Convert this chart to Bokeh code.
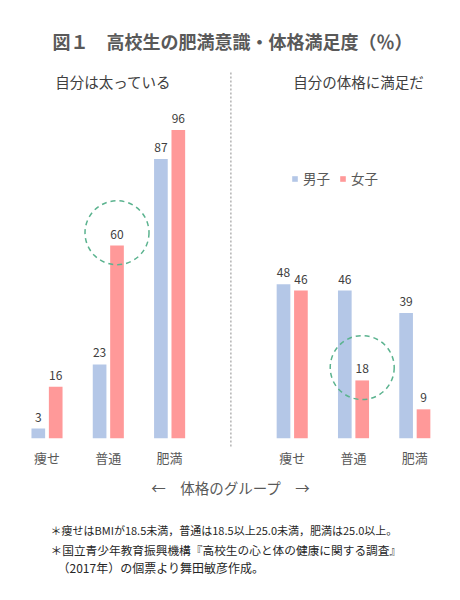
import numpy as np
from bokeh.plotting import figure
from bokeh.models import Range1d, Label, Legend, LegendItem, ColumnDataSource
from bokeh.core.properties import value
from bokeh.embed import file_html
from bokeh.resources import INLINE

# ---------------- data ----------------
title = "図１　高校生の肥満意識・体格満足度（％）"
panels = ["自分は太っている", "自分の体格に満足だ"]
groups = ["痩せ", "普通", "肥満"]
series = ["男子", "女子"]
male_fat = [3, 23, 87]
female_fat = [16, 60, 96]
male_sat = [48, 46, 39]
female_sat = [46, 18, 9]
axis_title = "←　体格のグループ　→"
notes = [
    "＊痩せはBMIが18.5未満，普通は18.5以上25.0未満，肥満は25.0以上。",
    "＊国立青少年教育振興機構『高校生の心と体の健康に関する調査』",
    "（2017年）の個票より舞田敏彦作成。",
]

# ---------------- styling ----------------
FONT = "Noto Sans CJK JP"
C_MALE = "#b4c7e7"
C_FEMALE = "#ff9999"
C_GREEN = "#5bb38f"
C_GRAY = "#595959"

W, H = 456, 596
X0, X1 = -0.7586, 6.680
Y0, Y1 = -49.31, 136.36


def dx(px):
    return X0 + px / W * (X1 - X0)


def dy(py):
    return Y1 - py / H * (Y1 - Y0)


p = figure(width=W, height=H, output_backend="svg", toolbar_location=None,
           x_range=Range1d(X0, X1), y_range=Range1d(Y0, Y1),
           min_border=0, min_border_left=0, min_border_right=0,
           min_border_top=0, min_border_bottom=0)
p.axis.visible = False
p.grid.visible = False
p.outline_line_color = None
p.background_fill_color = "white"
p.border_fill_color = "white"

pos_left = np.array([0, 1, 2], dtype=float)
pos_right = np.array([4, 5, 6], dtype=float)
positions = np.concatenate([pos_left, pos_right])
male = np.array(male_fat + male_sat, dtype=float)
female = np.array(female_fat + female_sat, dtype=float)
OFF, BW = 0.142, 0.223

src = ColumnDataSource(dict(
    xm=positions - OFF, xf=positions + OFF, m=male, f=female,
    lm=[str(int(v)) for v in male], lf=[str(int(v)) for v in female],
))

r_m = p.vbar(x="xm", top="m", bottom=0, width=BW, source=src,
             fill_color=C_MALE, line_color=None)
r_f = p.vbar(x="xf", top="f", bottom=0, width=BW, source=src,
             fill_color=C_FEMALE, line_color=None)

for xc, yc, tc in (("xm", "m", "lm"), ("xf", "f", "lf")):
    p.text(x=xc, y=yc, text=tc, source=src, text_font=value(FONT),
           text_font_size="12px", text_color="#404040", text_align="center",
           text_baseline="bottom", y_offset=-7)

# category labels
p.text(x=positions, y=[dy(457)] * 6, text=groups * 2, text_font=value(FONT),
       text_font_size="13px", text_color=C_GRAY, text_align="center",
       text_baseline="middle")

# highlight circles around 女子・普通 in both panels
hi = [1, 4]
p.scatter(x=positions[hi] + OFF, y=female[hi] + 4, marker="circle", size=64,
          fill_color=None, line_color=C_GREEN, line_width=1.5, line_dash="5 4")

# divider
mid = (pos_left[-1] + pos_right[0]) / 2
p.segment(x0=[mid], y0=[dy(446)], x1=[mid], y1=[dy(72)], line_color="#8c8c8c",
          line_width=1, line_dash="2 2")

# panel titles
for i, t in enumerate(panels):
    centre = (pos_left if i == 0 else pos_right)[1]
    p.add_layout(Label(x=centre + 0.08, y=dy(81), text=t, text_font=FONT,
                       text_font_size="14.5px", text_color="#404040",
                       text_align="center", text_baseline="middle"))

# title
p.add_layout(Label(x=dx(52), y=dy(40), text=title, text_font=FONT,
                   text_font_size="18px", text_font_style="bold",
                   text_color=C_GRAY, text_align="left", text_baseline="middle"))

# axis title
p.add_layout(Label(x=mid, y=dy(487), text=axis_title, text_font=FONT,
                   text_font_size="14.5px", text_color=C_GRAY,
                   text_align="center", text_baseline="middle"))

# notes
note_pos = [(50, 529.5, "11px"), (50, 548.5, "11.7px"), (57, 567, "12px")]
for (nx, ny, fs), t in zip(note_pos, notes):
    p.add_layout(Label(x=dx(nx), y=dy(ny), text=t, text_font=FONT,
                       text_font_size=fs, text_color="#262626",
                       text_align="left", text_baseline="middle"))

legend = Legend(items=[LegendItem(label=series[0], renderers=[r_m]),
                       LegendItem(label=series[1], renderers=[r_f])],
                orientation="horizontal", location=(291, 408),
                glyph_width=7, glyph_height=7, label_standoff=5, spacing=9,
                padding=0, margin=0, border_line_color=None,
                background_fill_alpha=0, label_text_font=FONT,
                label_text_font_size="13.5px", label_text_color=C_GRAY,
                label_height=14, label_text_baseline="middle")
p.add_layout(legend)

open("out.html", "w").write(file_html(p, INLINE))
